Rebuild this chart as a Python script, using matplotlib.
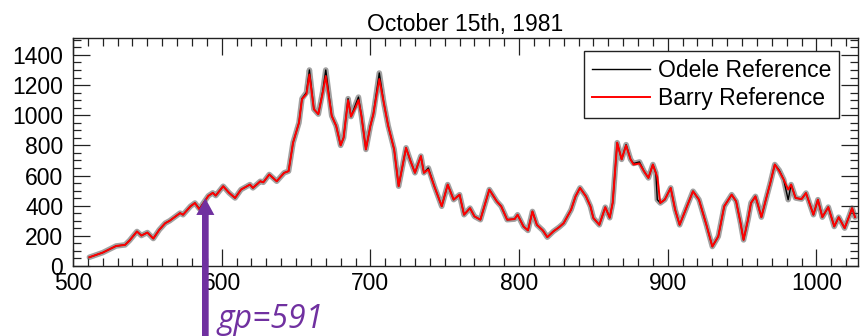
# imports
import numpy as np
import matplotlib
matplotlib.use('Agg')
import matplotlib.pyplot as plt
import matplotlib.ticker as ticker

# data (grid point vs. value)
gp = [511, 520, 526, 529, 535, 538, 543, 546, 550, 554, 558, 562, 565, 569, 572,
      574, 579, 582, 585, 591, 594, 596, 601, 605, 609, 613, 619, 621, 626, 628,
      632, 637, 642, 645, 648, 652, 654, 657, 659, 662, 665, 668, 670, 674, 677,
      680, 682, 685, 687, 690, 692, 694, 697, 700, 702, 706, 709, 712, 716, 719,
      724, 727, 730, 734, 736, 739, 743, 748, 752, 756, 760, 763, 767, 770, 774,
      780, 785, 788, 792, 797, 799, 803, 806, 809, 812, 816, 819, 823, 827, 830,
      835, 838, 841, 845, 848, 850, 854, 858, 861, 863, 866, 869, 872, 875, 877,
      881, 884, 887, 890, 892, 893, 895, 898, 902, 905, 908, 912, 917, 921, 926,
      930, 934, 938, 943, 946, 949, 951, 954, 956, 959, 960, 963, 966, 969, 972,
      975, 978, 981, 983, 986, 990, 993, 998, 1001, 1004, 1008, 1012, 1015, 1019, 1022,
      1024, 1026]

barry = [58, 89, 118, 133, 140, 169, 229, 202, 222, 182, 240, 284, 300, 329, 351,
         340, 396, 418, 375, 465, 485, 467, 529, 485, 451, 507, 540, 518, 562, 555,
         607, 562, 618, 629, 818, 951, 1107, 1140, 1270, 1040, 1007, 1151, 1260, 996, 929,
         800, 851, 1100, 991, 1051, 1100, 996, 773, 929, 1007, 1240, 1084, 929, 773, 529,
         784, 696, 618, 729, 618, 640, 529, 396, 540, 440, 473, 340, 384, 329, 307,
         507, 429, 396, 307, 311, 340, 262, 236, 362, 273, 236, 191, 229, 258, 284,
         373, 462, 518, 462, 396, 318, 273, 390, 320, 420, 818, 707, 800, 707, 673,
         680, 629, 584, 673, 618, 590, 418, 440, 518, 373, 273, 373, 496, 440, 273,
         129, 196, 396, 473, 429, 284, 173, 307, 418, 462, 429, 324, 440, 551, 673,
         629, 573, 507, 540, 451, 444, 484, 340, 440, 324, 391, 262, 324, 251, 329,
         384, 324]

odele = [58, 89, 118, 133, 140, 169, 229, 202, 222, 182, 240, 284, 300, 329, 351,
         340, 396, 418, 380, 465, 485, 467, 529, 485, 451, 507, 540, 518, 562, 555,
         607, 562, 618, 629, 818, 951, 1110, 1150, 1300, 1040, 1007, 1160, 1300, 996, 929,
         800, 851, 1110, 991, 1070, 1120, 996, 773, 929, 1007, 1280, 1084, 929, 773, 529,
         784, 696, 618, 729, 618, 650, 529, 396, 540, 440, 473, 340, 384, 329, 307,
         507, 429, 396, 307, 311, 340, 262, 236, 362, 273, 236, 191, 229, 258, 284,
         373, 462, 518, 462, 396, 318, 273, 390, 320, 420, 818, 707, 805, 707, 680,
         690, 629, 584, 673, 618, 440, 418, 440, 518, 373, 273, 373, 496, 440, 273,
         129, 196, 396, 473, 429, 284, 173, 307, 418, 462, 429, 324, 440, 551, 673,
         635, 573, 440, 540, 451, 444, 484, 340, 440, 324, 391, 262, 324, 251, 329,
         384, 324]

title = 'October 15th, 1981'
labels = ['Odele Reference', 'Barry Reference']
gp_mark = 591

plt.rcParams['font.family'] = ['Liberation Sans', 'DejaVu Sans']

fig = plt.figure(figsize=(8.62, 3.36), dpi=100)
ax = fig.add_axes([0.0847, 0.2083, 0.9107, 0.6786])

# odele with its gray spread, barry on top
ax.plot(gp, odele, color='#555555', lw=4, alpha=0.55, solid_capstyle='round')
ax.plot(gp, odele, color='black', lw=1.0, label=labels[0])
ax.plot(gp, barry, color='#ff0000', lw=1.4, label=labels[1])

# axis
ax.set_xlim(500, 1028)
ax.set_ylim(0, 1512)
ax.xaxis.set_major_locator(ticker.MultipleLocator(100))
ax.xaxis.set_minor_locator(ticker.MultipleLocator(10))
ax.yaxis.set_major_locator(ticker.MultipleLocator(200))
ax.yaxis.set_minor_locator(ticker.MultipleLocator(50))
ax.tick_params(which='both', direction='in', top=True, right=True, width=0.9, color='#222222')
ax.tick_params(which='major', length=12, labelsize=16.5)
ax.tick_params(which='minor', length=5.5)
ax.tick_params(axis='x', which='major', pad=4)
ax.tick_params(axis='y', which='major', pad=7)
for sp in ax.spines.values():
    sp.set_color('#222222')
    sp.set_linewidth(1.0)

ax.set_title(title, fontsize=16.5, pad=5)

leg = ax.legend(loc='upper right', bbox_to_anchor=(0.9758, 0.943), borderaxespad=0,
                fontsize=16.5, fancybox=False, edgecolor='#222222', framealpha=1,
                handlelength=2.5, handletextpad=0.35, borderpad=0.35, labelspacing=0.2)
leg.get_frame().set_linewidth(1.0)

# purple marker arrow for the grid point
purple = '#7030a0'
ax.annotate('', xy=(589, 449), xytext=(589, -520), annotation_clip=False, zorder=10,
            arrowprops=dict(width=4.8, headwidth=13, headlength=12, shrink=0,
                            facecolor=purple, edgecolor='none'))
fig.text(217 / 862, 1 - 328 / 336, 'gp=' + str(gp_mark), color=purple, fontsize=23,
         style='italic', family=['Open Sans', 'DejaVu Sans'], va='baseline', ha='left')

fig.savefig('out.png', dpi=100)
